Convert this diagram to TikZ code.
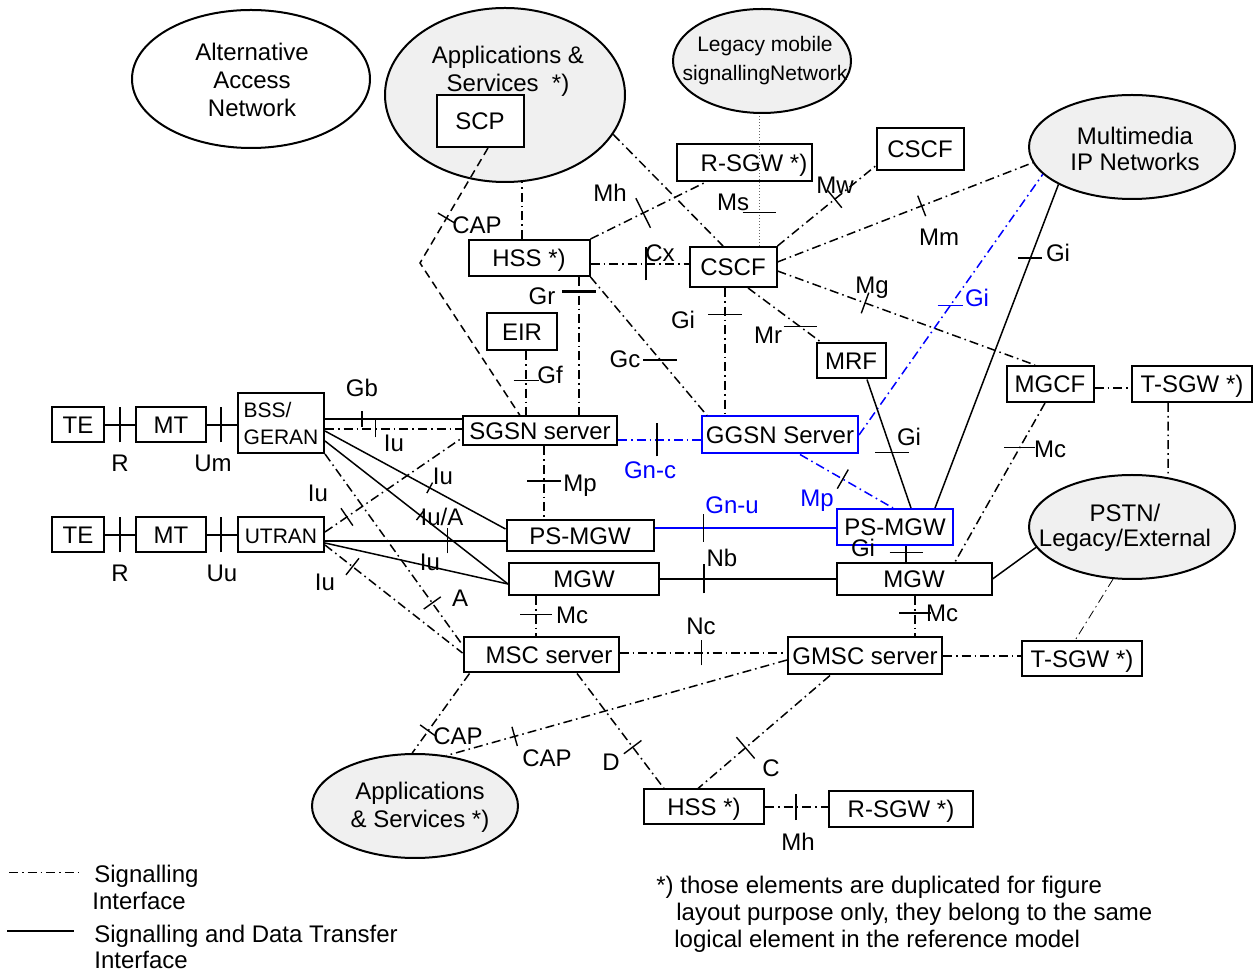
\documentclass[tikz,border=0pt]{standalone}
\usepackage{fontspec}
\setmainfont{Liberation Sans}
\usetikzlibrary{shapes.geometric,calc}

\newcommand{\tkv}[1]{\rule{0.7pt}{#1}}
\newcommand{\tkh}[1]{\rule{#1}{0.7pt}}

\begin{document}
\begin{tikzpicture}[
    x=0.5pt, y=-0.5pt,
    font=\fontsize{12}{14}\selectfont,
    box/.style={draw, line width=1pt, fill=white, inner sep=0pt,
                text height=8.6pt, text depth=0pt},
    sz/.style n args={2}{minimum width=#1*0.5pt, minimum height=#2*0.5pt},
    net/.style n args={2}{ellipse, draw, line width=1pt, fill=black!6,
                inner sep=0pt, minimum width=#1*1pt, minimum height=#2*1pt},
    sig/.style={line width=0.75pt, dash pattern=on 4.5pt off 2pt on 0.8pt off 2pt},
    dat/.style={line width=0.75pt},
    tk/.style={inner sep=0pt, outer sep=0pt, text=black},
    lbl/.style={inner sep=0pt, text height=8.6pt, text depth=0pt},
  ]
  \useasboundingbox (0,0) rectangle (1254,972);

  % networks (ellipses)
  \node[net={119}{69}, fill=white] (aan) at (251,79) {};
  \node[net={120}{87}] (appT) at (505,95) {};
  \node[net={89}{52}] (legacy) at (762,61) {};
  \node[net={103}{52}] (mmip) at (1132,147) {};
  \node[net={103}{52}] (pstn) at (1132,527) {};
  \node[net={103}{52}] (appB) at (415,806) {};
  \node[align=center] (aanT) at (252,80) {Alternative\\Access\\Network};
  \node[align=center] (appTT) at (508,71) {Applications \&\\Services\ \ *)};
  \node[align=center, font=\fontsize{10.5}{14.5}\selectfont] (legacyT) at (765,61)
    {Legacy mobile\\signallingNetwork};
  \node[align=center, font=\fontsize{12}{13}\selectfont] (mmipT) at (1135,149)
    {Multimedia\\IP Networks};
  \node[align=center, font=\fontsize{12}{12.5}\selectfont] (pstnT) at (1125,528)
    {PSTN/\\Legacy/External};
  \node[align=center] (appBT) at (420,807) {Applications\\\& Services *)};

  % terminals and access
  \node[box, sz={52}{35}] (te1) at (78,425) {TE};
  \node[box, sz={70}{35}] (mt1) at (171,425) {MT};
  \node[box, sz={86}{60}, align=left, text height=, text depth=,
        font=\fontsize{10.5}{13.5}\selectfont] (bss) at (281,423) {BSS/\\GERAN};
  \node[box, sz={52}{35}] (te2) at (78,535) {TE};
  \node[box, sz={70}{35}] (mt2) at (171,535) {MT};
  \node[box, sz={86}{35}, font=\fontsize{10.5}{12}\selectfont] (utran) at (281,535) {UTRAN};

  % core elements
  \node[box, sz={87}{52}] (scp) at (480,121) {SCP};
  \node[box, sz={121}{36}] (hss1) at (529,258) {HSS *)};
  \node[box, sz={70}{37}] (eir) at (522,332) {EIR};
  \node[box, sz={154}{29}] (sgsn) at (540,431) {SGSN server};
  \node[box, sz={135}{37}] (rsgw1) at (744,163) {\hspace{10pt}R-SGW *)};
  \node[box, sz={87}{40}] (cscf1) at (733,267) {CSCF};
  \node[box, sz={87}{42}] (cscf2) at (920,149) {CSCF};
  \node[box, sz={69}{35}] (mrf) at (851,361) {MRF};
  \node[box, sz={156}{37}, draw=blue] (ggsn) at (780,435) {GGSN Server};
  \node[box, sz={147}{31}] (psmgw1) at (580,536) {PS-MGW};
  \node[box, sz={150}{32}] (mgw1) at (584,579) {MGW};
  \node[box, sz={116}{36}, draw=blue] (psmgw2) at (895,527) {PS-MGW};
  \node[box, sz={155}{32}] (mgw2) at (914,579) {MGW};
  \node[box, sz={87}{36}] (mgcf) at (1050,384) {MGCF};
  \node[box, sz={120}{36}] (tsgw1) at (1192,384) {T-SGW *)};
  \node[box, sz={155}{35}] (msc) at (541,655) {\hspace{8pt}MSC server};
  \node[box, sz={154}{37}] (gmsc) at (865,656) {GMSC server};
  \node[box, sz={120}{35}] (tsgw2) at (1082,659) {T-SGW *)};
  \node[box, sz={120}{35}] (hss2) at (704,807) {HSS *)};
  \node[box, sz={144}{36}] (rsgw2) at (901,809) {R-SGW *)};

  % reference point labels
  \node[lbl] (lR1) at (120,463) {R};
  \node[lbl] (lUm) at (213,463) {Um};
  \node[lbl] (lR2) at (120,573) {R};
  \node[lbl] (lUu) at (222,573) {Uu};
  \node[lbl] (lGb) at (362,388) {Gb};
  \node[lbl] (lIu1) at (394,443) {Iu};
  \node[lbl] (lIu2) at (443,476) {Iu};
  \node[lbl] (lIuA) at (442,517) {Iu/A};
  \node[lbl] (lIu3) at (430,562) {Iu};
  \node[lbl] (lIu4) at (318,493) {Iu};
  \node[lbl] (lIu5) at (325,582) {Iu};
  \node[lbl] (lA) at (460,598) {A};
  \node[lbl] (lCAP1) at (477,225) {CAP};
  \node[lbl] (lGr) at (542,296) {Gr};
  \node[lbl] (lGf) at (550,375) {Gf};
  \node[lbl] (lMh1) at (610,193) {Mh};
  \node[lbl] (lCx) at (660,253) {Cx};
  \node[lbl] (lMs) at (733,202) {Ms};
  \node[lbl] (lMw) at (835,185) {Mw};
  \node[lbl] (lMm) at (939,237) {Mm};
  \node[lbl] (lMg) at (872,285) {Mg};
  \node[lbl] (lMr) at (768,335) {Mr};
  \node[lbl] (lGi1) at (683,320) {Gi};
  \node[lbl] (lGc) at (625,359) {Gc};
  \node[lbl, text=blue] (lGnc) at (650,470) {Gn-c};
  \node[lbl] (lMp1) at (580,483) {Mp};
  \node[lbl, text=blue] (lGnu) at (732,505) {Gn-u};
  \node[lbl, text=blue] (lMp2) at (817,498) {Mp};
  \node[lbl, text=blue] (lGi2) at (977,298) {Gi};
  \node[lbl] (lGi3) at (909,437) {Gi};
  \node[lbl] (lGi4) at (1058,253) {Gi};
  \node[lbl] (lGi5) at (863,548) {Gi};
  \node[lbl] (lNb) at (722,558) {Nb};
  \node[lbl] (lMc1) at (1050,449) {Mc};
  \node[lbl] (lMc2) at (942,613) {Mc};
  \node[lbl] (lMc3) at (572,615) {Mc};
  \node[lbl] (lNc) at (701,626) {Nc};
  \node[lbl] (lCAP2) at (458,736) {CAP};
  \node[lbl] (lCAP3) at (547,758) {CAP};
  \node[lbl] (lD) at (611,762) {D};
  \node[lbl] (lC) at (771,768) {C};
  \node[lbl] (lMh2) at (798,842) {Mh};

  % terminal side interfaces
  \draw[dat] (te1) -- node[tk, pos=.5] {\tkv{17.5pt}} (mt1);
  \draw[dat] (mt1.east) -- node[tk, pos=.47] {\tkv{17.5pt}} (mt1.east -| bss.west);
  \draw[dat] (te2) -- node[tk, pos=.5] {\tkv{17.5pt}} (mt2);
  \draw[dat] (mt2) -- node[tk, pos=.47] {\tkv{17.5pt}} (utran);

  % radio access to core
  \draw[dat] ($(bss.east)+(0,-4)$) -- node[tk, pos=.27] {\tkv{8pt}} ($(sgsn.west)+(0,-12)$);
  \draw[sig] ($(bss.east)+(0,6)$) -- node[tk, pos=.37] {\tkv{8.5pt}} ($(sgsn.west)+(0,-2)$);
  \draw[dat] ($(bss.east)+(0,8)$) -- node[tk, sloped, pos=.58] {\tkv{6pt}} ($(psmgw1.west)+(0,-7)$);
  \draw[dat] ($(bss.east)+(0,18)$) -- node[tk, sloped, pos=.52] {\tkv{6pt}} ($(mgw1.west)+(0,5)$);
  \draw[sig] (bss.south east) -- node[tk, sloped, pos=.78] {\tkv{10.5pt}} ($(msc.west)+(0,-10)$);
  \draw[dat] ($(utran.east)+(0,6)$) -- node[tk, pos=.68] {\tkv{12.5pt}} ($(psmgw1.west)+(0,5)$);
  \draw[dat] ($(utran.east)+(0,8)$) -- ($(mgw1.west)+(0,5)$);
  \draw[sig] ($(utran.east)+(0,-3)$) -- node[tk, sloped, pos=.16] {\tkv{10.5pt}} ($(sgsn.west)+(0,7)$);
  \draw[sig] ($(utran.east)+(0,10)$) -- node[tk, sloped, pos=.2] {\tkv{10.5pt}} ($(msc.west)+(0,-2)$);

  % SGSN, HSS, EIR, SCP
  \coordinate (capbend) at (420,263);
  \draw[sig] ($(hss1.south)+(50,0)$) -- node[tk, pos=.107] {\rule{17pt}{1.5pt}} ($(sgsn.north)+(39,0)$);
  \draw[sig] ($(eir.south)+(4,0)$) -- node[tk, pos=.45] {\tkh{12.5pt}} ($(sgsn.north)+(-14,0)$);
  \draw[dat, dash pattern=on 4pt off 2.5pt] ($(scp.south)+(8,0)$)
    -- node[tk, sloped, pos=.61] {\tkv{10pt}} (capbend) -- ($(sgsn.north)+(-20,0)$);
  \draw[sig] ($(hss1.north)+(-7,0)$) -- ($(appT.south)+(17,-1)$);
  \draw[sig] ($(hss1.east)+(0,6)$) -- node[tk, pos=.565] {\tkv{16.5pt}} ($(cscf1.west)+(0,-3)$);
  \draw[sig] (hss1.north east) -- node[tk, sloped, pos=.46] {\tkv{16.5pt}} ($(rsgw1.south)+(-39,0)$);
  \draw[sig] (hss1.south east) -- node[tk, pos=.6] {\tkh{17pt}} ($(ggsn.north west)+(6,0)$);

  % CSCF interfaces
  \draw[sig] (appT.-20) -- ($(cscf1.north)+(-10,0)$);
  \draw[densely dotted, black!60, line width=0.5pt] ($(cscf1.north)+(26,0)$)
    -- node[tk, pos=.254] {\tkh{16.5pt}} ($(legacy.south)+(-3,0)$);
  \draw[sig] (cscf1.north east) -- node[tk, sloped, pos=.585] {\tkv{11pt}} ($(cscf2.south west)+(0,-5)$);
  \draw[sig] ($(cscf1.east)+(0,-5)$) -- node[tk, sloped, pos=.565] {\tkv{11pt}} (mmip.189);
  \draw[sig] ($(cscf1.east)+(0,4)$) -- node[tk, sloped, pos=.34] {\tkv{11pt}} ($(mgcf.north)+(-15,0)$);
  \draw[sig] ($(cscf1.south)+(15,0)$) -- node[tk, pos=.71] {\tkh{16.5pt}} ($(mrf.north west)+(6,0)$);
  \draw[sig] ($(cscf1.south)+(-8,0)$) -- node[tk, pos=.21] {\tkh{17pt}} ($(ggsn.north)+(-55,0)$);

  % GGSN and packet media gateways
  \draw[sig, blue] ($(sgsn.east)+(0,9)$) -- node[tk, pos=.47] {\tkv{16.5pt}} ($(ggsn.west)+(0,5)$);
  \draw[sig] ($(sgsn.south)+(4,0)$) -- node[tk, pos=.47] {\tkh{17pt}} ($(psmgw1.north)+(-36,0)$);
  \draw[dat, blue] ($(psmgw1.east)+(0,-8)$) -- node[tk, pos=.27] {\tkv{14pt}} ($(psmgw2.west)+(0,1)$);
  \draw[dat] (mgw1.east) -- node[tk, pos=.25] {\tkv{14.5pt}} (mgw2.west);
  \draw[sig, blue] ($(ggsn.south)+(20,0)$) -- node[tk, sloped, pos=.46] {\tkv{11pt}} ($(psmgw2.north)+(-2,0)$);
  \draw[sig, blue] (ggsn.east) -- node[tk, text=blue, pos=.496] {\tkh{12.5pt}} (mmip.197);
  \draw[dat] ($(mrf.south)+(16,0)$) -- node[tk, pos=.57] {\tkh{17pt}} ($(psmgw2.north)+(16,0)$);
  \draw[dat] (mmip.207) -- node[tk, pos=.227] {\tkh{12pt}} ($(psmgw2.north east)+(-19,0)$);
  \draw[dat] ($(psmgw2.south)+(11,0)$) -- node[tk, pos=.39] {\tkh{16.5pt}} ($(mgw2.north)+(-8,0)$);

  % MGCF and PSTN side
  \draw[sig] ($(mgcf.east)+(0,4)$) -- ($(tsgw1.west)+(0,4)$);
  \draw[sig] ($(mgcf.south)+(-5,0)$) -- node[tk, pos=.28] {\tkh{15.5pt}} ($(mgw2.north)+(41,0)$);
  \draw[sig] ($(tsgw1.south)+(-24,0)$) -- (pstn.54);
  \draw[dat] (mgw2.east) -- (pstn.192);
  \draw[sig, line width=0.4pt] (pstn.250) -- ($(tsgw2.north)+(-7,0)$);

  % circuit switched core
  \draw[sig] ($(mgw2.south)+(1,0)$) -- node[tk, pos=.42] {\tkh{16pt}} ($(gmsc.north)+(50,0)$);
  \draw[sig] ($(mgw1.south)+(-48,0)$) -- node[tk, pos=.45] {\tkh{16pt}} ($(msc.north)+(-5,0)$);
  \draw[sig] ($(msc.east)+(0,-2)$) -- node[tk, pos=.49] {\tkv{12.5pt}} ($(gmsc.west)+(0,-3)$);
  \draw[sig] (gmsc.east) -- ($(tsgw2.west)+(0,-3)$);
  \draw[sig] ($(msc.south west)+(7,0)$) -- node[tk, sloped, pos=.72] {\tkv{10pt}} (appB.93);
  \draw[sig] ($(gmsc.west)+(0,4)$) -- node[tk, sloped, pos=.8] {\tkv{10pt}} (appB.58);
  \draw[sig] ($(msc.south)+(36,0)$) -- node[tk, sloped, pos=.64] {\tkv{11pt}} ($(hss2.north west)+(21,0)$);
  \draw[sig] ($(gmsc.south)+(-35,0)$) -- node[tk, sloped, pos=.64] {\tkv{14pt}} ($(hss2.north)+(-6,0)$);
  \draw[sig] (hss2.east) -- node[tk, pos=.49] {\tkv{13pt}} ($(rsgw2.west)+(0,-2)$);

  % legend
  \coordinate (lg1a) at (9,873);
  \coordinate (lg1b) at (78,873);
  \coordinate (lg2a) at (7,931);
  \coordinate (lg2b) at (74,931);
  \draw[sig, line width=0.5pt] (lg1a) -- (lg1b);
  \draw[dat, line width=0.9pt] (lg2a) -- (lg2b);
  \node[lbl, anchor=west] (lgSig1) at (94,874) {Signalling};
  \node[lbl, anchor=west] (lgSig2) at (92,901) {Interface};
  \node[lbl, anchor=west] (lgDat1) at (94,934) {Signalling and Data Transfer};
  \node[lbl, anchor=west] (lgDat2) at (94,960) {Interface};

  % footnote
  \node[lbl, anchor=west] (fn1) at (656,885) {*) those elements are duplicated for figure};
  \node[lbl, anchor=west] (fn2) at (676,912) {layout purpose only, they belong to the same};
  \node[lbl, anchor=west] (fn3) at (674,939) {logical element in the reference model};
\end{tikzpicture}
\end{document}
